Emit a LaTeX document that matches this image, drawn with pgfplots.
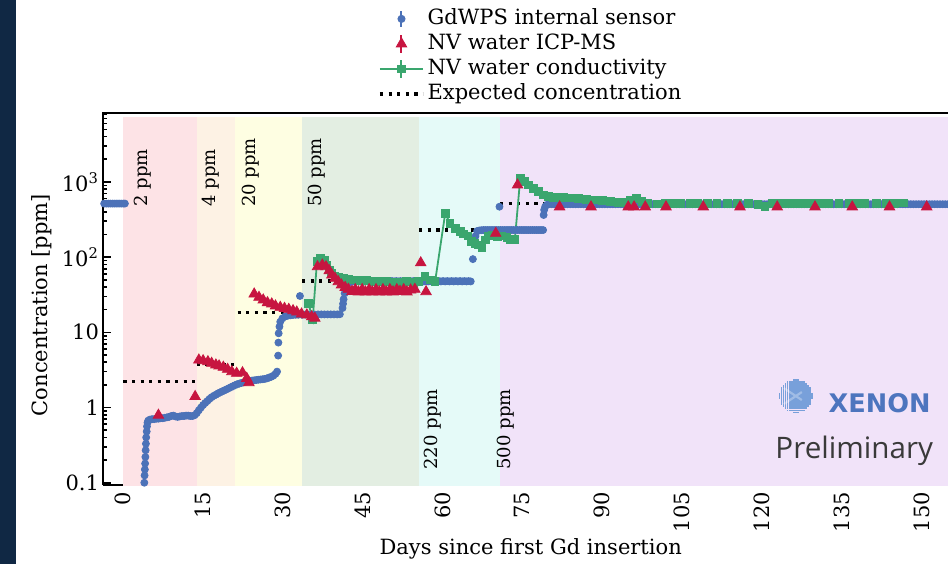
\documentclass[border=0pt]{standalone}
\usepackage{fontspec}
\setmainfont{DejaVu Serif}
\newfontfamily\prelimfont{Open Sans}
\newfontfamily\xenonfont{DejaVu Sans}
\usepackage{pgfplots}
\pgfplotsset{compat=1.18}

\definecolor{navy}{RGB}{16,40,68}
\definecolor{gdblue}{RGB}{76,114,184}
\definecolor{icpred}{RGB}{199,21,64}
\definecolor{condgreen}{RGB}{58,166,110}
\definecolor{bpink}{RGB}{253,227,230}
\definecolor{bpeach}{RGB}{253,242,228}
\definecolor{byellow}{RGB}{254,254,226}
\definecolor{bgreen}{RGB}{227,238,226}
\definecolor{bcyan}{RGB}{229,250,248}
\definecolor{blav}{RGB}{241,227,249}
\definecolor{xenonblue}{RGB}{77,117,190}
\definecolor{logodot}{RGB}{120,160,218}
\definecolor{prelimgray}{RGB}{58,58,58}

\newcommand\mainsize{\fontsize{10.5}{12}\selectfont}
\newcommand\bandfont{\fontsize{9}{10}\selectfont}

\pgfplotsset{
  legblue/.style={legend image code/.code={
    \draw[draw=none] (0pt,0pt) -- (21.5pt,0pt);
    \draw[gdblue,line width=1pt] (10.75pt,-4pt) -- (10.75pt,4pt);
    \fill[gdblue] (10.75pt,0pt) circle (1.8pt);}},
  legred/.style={legend image code/.code={
    \draw[draw=none] (0pt,0pt) -- (21.5pt,0pt);
    \draw[icpred,line width=1pt] (10.75pt,-4.5pt) -- (10.75pt,4.5pt);
    \draw[icpred,mark=triangle*,mark size=3pt] plot coordinates {(10.75pt,0pt)};}},
  leggreen/.style={legend image code/.code={
    \draw[condgreen,line width=0.9pt] (0pt,0pt) -- (21.5pt,0pt);
    \draw[condgreen,line width=1pt] (10.75pt,-4.5pt) -- (10.75pt,4.5pt);
    \draw[condgreen,mark=square*,mark size=1.8pt] plot coordinates {(10.75pt,0pt)};}},
  legblack/.style={legend image code/.code={
    \draw[black,line width=1.6pt,dash pattern=on 1.6pt off 2.7pt] (0pt,0pt) -- (21.5pt,0pt);}},
}

\begin{document}
\begin{tikzpicture}
\fill[white] (-51.65pt,-39.5pt) rectangle (422.35pt,242.5pt);
\fill[navy] (-51.65pt,-39.5pt) rectangle (-43.65pt,242.5pt);
\useasboundingbox (-51.65pt,-39.5pt) rectangle (422.35pt,242.5pt);

\begin{axis}[
  at={(0pt,0pt)}, anchor=south west,
  scale only axis, width=422.35pt, height=185.85pt,
  font=\mainsize,
  xmin=-3.76, xmax=155,
  ymode=log, ymin=0.0932, ymax=8170,
  axis x line*=bottom, axis y line*=left,
  axis line style={line width=0.9pt},
  tick align=inside,
  major tick length=3.8pt, minor tick length=2pt,
  tick style={black, line width=0.8pt},
  xtick={0,15,30,45,60,75,90,105,120,135,150},
  xticklabels={0,15,30,45,60,75,90,105,120,135,150},
  x tick label style={rotate=90, anchor=east, font=\mainsize},
  ytick={0.1,1,10,100,1000},
  yticklabels={0.1,1,10,10\textsuperscript{2},10\textsuperscript{3}},
  minor ytick={0.2,0.3,0.4,0.5,0.6,0.7,0.8,0.9,2,3,4,5,6,7,8,9,20,30,40,50,60,70,80,90,200,300,400,500,600,700,800,900,2000,3000,4000,5000,6000,7000,8000},
  y tick label style={font=\mainsize, inner xsep=2pt},
  xlabel={Days since first Gd insertion},
  ylabel={Concentration [ppm]},
  xlabel style={at={(axis description cs:0.506,-0.172)}, anchor=center},
  ylabel style={at={(axis description cs:-0.0726,0.484)}, anchor=center},
  legend style={at={(axis description cs:0.3252,1.2833)}, anchor=north west,
    draw=none, fill=none, inner sep=0pt, row sep=2pt, column sep=1.5pt,
    font=\mainsize, nodes={inner sep=0pt, text height=8pt, text depth=2.5pt}},
  legend cell align=left,
]
% concentration stages
\addplot[draw=none, fill=bpink, forget plot] coordinates {(0,0.09) (0,7300) (13.8,7300) (13.8,0.09)};
\addplot[draw=none, fill=bpeach, forget plot] coordinates {(13.8,0.09) (13.8,7300) (21,7300) (21,0.09)};
\addplot[draw=none, fill=byellow, forget plot] coordinates {(21,0.09) (21,7300) (33.6,7300) (33.6,0.09)};
\addplot[draw=none, fill=bgreen, forget plot] coordinates {(33.6,0.09) (33.6,7300) (55.5,7300) (55.5,0.09)};
\addplot[draw=none, fill=bcyan, forget plot] coordinates {(55.5,0.09) (55.5,7300) (70.8,7300) (70.8,0.09)};
\addplot[draw=none, fill=blav, forget plot] coordinates {(70.8,0.09) (70.8,7300) (160,7300) (160,0.09)};

% expected concentration
\pgfplotsset{expstyle/.style={black, line width=1.6pt, dash pattern=on 1.6pt off 2.7pt, forget plot}}
\addplot[expstyle] coordinates {(0,2.2) (13.8,2.2)};
\addplot[expstyle] coordinates {(13.8,3.7) (21.2,3.7)};
\addplot[expstyle] coordinates {(21.5,18.2) (33.6,18.2)};
\addplot[expstyle] coordinates {(33.6,48) (55.5,48)};
\addplot[expstyle] coordinates {(55.6,229) (70.8,229)};
\addplot[expstyle] coordinates {(70.8,520) (80,520)};

% GdWPS internal sensor
\addplot[only marks, mark=*, mark size=1.75pt, color=gdblue, forget plot] coordinates {
(-3.6,515) (-3.2,515) (-2.8,515) (-2.4,515) (-2.0,515) (-1.6,515) (-1.2,515) (-0.8,515) (-0.4,515) (0.0,515) (0.3,515)
(3.95,0.10) (4.00,0.125) (4.05,0.15) (4.10,0.18) (4.15,0.22) (4.20,0.27) (4.25,0.33) (4.30,0.40) (4.40,0.48) (4.45,0.56) (4.55,0.63) (4.70,0.67)
(5.0,0.69) (5.4,0.70) (5.8,0.70) (6.2,0.71) (6.6,0.71) (7.0,0.72) (7.4,0.72) (7.8,0.73) (8.2,0.74) (8.6,0.75) (9.0,0.77) (9.4,0.78) (9.8,0.76)
(10.2,0.75) (10.6,0.76) (11.0,0.77) (11.4,0.77) (11.8,0.78) (12.2,0.78) (12.6,0.77) (13.0,0.77) (13.4,0.79) (13.8,0.84) (14.2,0.92) (14.6,1.00)
(15.0,1.08) (15.4,1.15) (15.8,1.22) (16.2,1.30) (16.6,1.37) (17.0,1.43) (17.4,1.48) (17.8,1.54) (18.2,1.59) (18.6,1.64) (19.0,1.69) (19.4,1.74)
(19.8,1.80) (20.2,1.86) (20.6,1.92) (21.0,1.98) (21.4,2.04) (21.8,2.08) (22.2,2.12) (22.6,2.16) (23.0,2.20) (23.4,2.23) (23.8,2.26) (24.2,2.28)
(24.6,2.30) (25.0,2.32) (25.4,2.34) (25.8,2.36) (26.2,2.38) (26.6,2.40) (27.0,2.44) (27.4,2.50) (27.8,2.56) (28.2,2.65) (28.6,2.80) (28.9,3.00)
(29.1,4.9) (29.15,7.3) (29.2,9.7) (29.35,11.9) (29.5,13.8) (29.9,15.3) (30.4,16.2) (30.9,16.6) (31.4,16.8) (31.9,17.0) (32.4,17.1) (32.9,17.1)
(33.2,30.4) (33.6,17.1) (34.2,17.2) (34.8,17.2) (35.4,17.2) (36.0,17.2) (36.6,17.3) (37.2,17.3) (37.8,17.3) (38.4,17.3) (39.0,17.3) (39.6,17.3)
(40.2,17.3) (40.7,17.4) (41.2,21) (41.3,24) (41.4,27.5) (41.6,33) (41.8,40) (42.1,44) (42.5,46)
(42.9,47.5) (43.3,48) (43.7,47.5) (44.1,48) (44.5,47.5) (44.9,48) (45.3,47.5) (45.7,48) (46.1,47.5) (46.5,48) (46.9,47.5) (47.3,48)
(47.7,47.5) (48.1,48) (48.5,47.5) (48.9,48) (49.3,47.5) (49.7,48) (50.1,47.5) (50.5,48) (50.9,47.5) (51.3,48) (51.7,47.5) (52.1,48)
(52.5,47.5) (52.9,48) (53.3,47.5) (53.7,48) (54.1,47.5) (54.5,48) (54.9,47.5) (55.3,48) (55.7,47.5) (56.1,48) (56.5,47.5) (56.9,48)
(57.3,47.5) (57.7,48) (58.1,47.5) (58.5,48) (58.9,47.5) (59.3,48) (59.7,47.5) (60.1,48) (60.5,47.5) (60.9,48) (61.3,47.5) (61.7,48)
(62.1,47.5) (62.5,48) (62.9,47.5) (63.3,48) (63.7,47.5) (64.1,48) (64.5,47.5) (64.9,48) (65.3,47.5)
(65.7,94) (66.2,190) (66.5,222) (66.9,226) (67.3,228)
(67.7,229) (68.1,229) (68.5,229) (68.9,229) (69.3,229) (69.7,229) (70.1,229) (70.5,229) (70.7,468) (70.9,229) (71.3,229) (71.7,229)
(72.1,229) (72.5,229) (72.9,229) (73.3,229) (73.7,229) (74.1,229) (74.5,229) (74.9,229) (75.3,229) (75.7,229) (76.1,229) (76.5,229)
(76.9,229) (77.3,229) (77.7,229) (78.1,229) (78.5,229) (78.9,229) (79.0,363) (79.1,424) (79.3,470) (79.6,495)
(80.0,505) (80.5,505) (81.0,505) (81.5,505) (82.0,505) (82.5,505) (83.0,505) (83.5,505) (84.0,505) (84.5,505) (85.0,505) (85.5,505)
(86.0,505) (86.5,505) (87.0,505) (87.5,505) (88.0,505) (88.5,505) (89.0,505) (89.5,505) (90.0,505) (90.5,505) (91.0,505) (91.5,505)
(92.0,505) (92.5,505) (93.0,505) (93.5,505) (94.0,505) (94.5,505) (95.0,505) (95.5,505) (96.0,505) (96.5,505) (97.0,505) (97.5,505)
(98.0,505) (98.5,505) (99.0,505) (99.5,505) (100.0,505) (100.5,505) (101.0,505) (101.5,505) (102.0,505) (102.5,505) (103.0,505) (103.5,505)
(104.0,505) (104.5,505) (105.0,505) (105.5,505) (106.0,505) (106.5,505) (107.0,505) (107.5,505) (108.0,505) (108.5,505) (109.0,505) (109.5,505)
(110.0,505) (110.5,505) (111.0,505) (111.5,505) (112.0,505) (112.5,505) (113.0,505) (113.5,505) (114.0,505) (114.5,505) (115.0,505) (115.5,505)
(116.0,505) (116.5,505) (117.0,505) (117.5,505) (118.0,505) (118.5,505) (119.0,505) (119.5,505) (120.0,505) (120.5,505) (121.0,505) (121.5,505)
(122.0,505) (122.5,505) (123.0,505) (123.5,505) (124.0,505) (124.5,505) (125.0,505) (125.5,505) (126.0,505) (126.5,505) (127.0,505) (127.5,505)
(128.0,505) (128.5,505) (129.0,505) (129.5,505) (130.0,505) (130.5,505) (131.0,505) (131.5,505) (132.0,505) (132.5,505) (133.0,505) (133.5,505)
(134.0,505) (134.5,505) (135.0,505) (135.5,505) (136.0,505) (136.5,505) (137.0,505) (137.5,505) (138.0,505) (138.5,505) (139.0,505) (139.5,505)
(140.0,505) (140.5,505) (141.0,505) (141.5,505) (142.0,505) (142.5,505) (143.0,505) (143.5,505) (144.0,505) (144.5,505) (145.0,505) (145.5,505)
(146.0,505) (146.5,505) (147.0,505) (147.5,505) (148.0,505) (148.5,505) (149.0,505) (149.5,505) (150.0,505) (150.5,505) (151.0,505) (151.5,505)
(152.0,505) (152.5,505) (153.0,505) (153.5,505) (154.0,505) (154.5,505) (155.0,505)
};

% NV water conductivity
\addplot[color=condgreen, line width=0.9pt, mark=square*, mark size=1.75pt, forget plot] coordinates {
(34.8,24.3) (35.6,14.9) (36.4,86.9) (37.1,96.4) (37.9,91.5) (38.3,78.5) (38.7,67.5) (39.2,61) (39.8,56.1) (40.4,53.8) (41.4,52.2) (42.3,50.7)
(43.2,49.6) (44.5,48.5) (45.8,48.5) (47.0,47.4) (48.3,47.4) (49.5,47.4) (50.8,46.3) (52.0,46.3) (53.3,47.4) (54.5,46.3) (55.5,47.4) (56.7,54.8)
(57.7,49.6) (58.6,47.1) (60.5,382) (61.4,281) (62.4,241) (63.3,218) (64.0,203) (64.8,191) (65.5,160) (66.1,152) (66.7,145) (67.4,135)
(68.0,169) (68.6,191) (69.4,197) (70.3,187) (71.1,191) (72.1,183) (72.7,173) (73.6,173) (74.6,1117) (75.5,1008) (76.1,910) (77.1,822)
(78.0,742) (79.0,670) (79.9,636) (80.8,624) (81.8,624) (82.7,620) (84.0,610) (85.5,598) (87.0,588) (88.5,575) (90.0,560) (91.5,548)
(93.0,535) (94.2,529) (95.3,560) (96.5,605) (97.5,555) (98.5,520) (100.3,508) (101.8,512) (103.2,515) (104.7,520) (106.5,520) (108.0,515)
(109.8,515) (111.6,520) (113.5,515) (115.5,512) (117.5,512) (119.3,505) (120.6,468) (122.0,510) (123.7,512) (125.3,520) (126.6,515) (127.8,520)
(129.5,515) (131.0,515) (132.5,520) (134.5,515) (136.5,512) (138.0,515) (139.4,520) (141.6,520) (143.5,515) (145.0,515) (146.6,525)
};

% NV water ICP-MS
\addplot[only marks, mark=triangle*, mark size=3pt, color=icpred, forget plot] coordinates {
(6.6,0.79) (13.5,1.40) (14.2,4.28) (15.0,4.19) (15.9,4.06) (16.6,3.87) (17.4,3.68) (18.0,3.57) (18.8,3.43) (19.6,3.22) (20.4,2.99) (21.3,2.85)
(22.4,2.90) (23.2,2.44) (23.6,2.14) (24.6,32.3) (25.5,29.2) (26.3,26.9) (27.1,24.8) (27.9,23.8) (28.6,22.4) (29.5,21.5) (30.3,20.8) (31.1,20.2)
(31.9,19.4) (32.6,18.6) (33.5,17.5) (34.5,17.0) (35.4,16.1) (36.0,15.4) (36.5,74.5) (37.4,78.5) (38.1,74.5) (38.7,65.9) (39.2,57.8) (39.8,52.2)
(40.4,47.1) (41.0,42.6) (41.7,39.6) (42.3,37.3) (43.0,35) (43.6,37) (44.2,34.5) (44.9,37) (45.5,34.5) (46.2,37) (46.8,34.5) (47.5,37)
(48.1,34.5) (48.8,37) (49.4,34.5) (50.1,37) (50.7,34.5) (51.4,37) (52.0,35) (52.7,37) (53.3,34.5) (54.0,36.5) (54.8,37.3) (55.9,84)
(56.9,34.7) (70.0,207) (74.1,910) (82.0,465) (87.9,465) (94.9,465) (96.0,465) (98.1,465) (102.0,465) (109.0,465) (115.9,465) (122.9,465)
(130.0,465) (137.0,465) (144.0,465) (151.0,465)
};

% stage labels
\node[rotate=90, anchor=west, inner sep=0pt, font=\bandfont] at (axis cs:3.6,463) {2 ppm};
\node[rotate=90, anchor=west, inner sep=0pt, font=\bandfont] at (axis cs:16.4,463) {4 ppm};
\node[rotate=90, anchor=west, inner sep=0pt, font=\bandfont] at (axis cs:23.9,463) {20 ppm};
\node[rotate=90, anchor=west, inner sep=0pt, font=\bandfont] at (axis cs:36.4,463) {50 ppm};
\node[rotate=90, anchor=west, inner sep=0pt, font=\bandfont] at (axis cs:58.2,0.148) {220 ppm};
\node[rotate=90, anchor=west, inner sep=0pt, font=\bandfont] at (axis cs:71.8,0.148) {500 ppm};

\coordinate (logoc) at (axis cs:126.4,1.42);
\coordinate (xen) at (axis cs:132.5,0.871);
\coordinate (prel) at (axis cs:122.5,0.213);

\addlegendimage{legblue}
\addlegendentry{GdWPS internal sensor}
\addlegendimage{legred}
\addlegendentry{NV water ICP-MS}
\addlegendimage{leggreen}
\addlegendentry{NV water conductivity}
\addlegendimage{legblack}
\addlegendentry{Expected concentration}
\end{axis}

\draw[line width=0.9pt] (-0.45pt,185.85pt) -- (422.35pt,185.85pt);

% XENON logo
\begin{scope}[shift={(logoc)}]
\foreach \i in {-8,...,8}{\foreach \j in {-8,...,8}{
  \pgfmathtruncatemacro{\rr}{\i*\i+\j*\j}
  \ifnum\rr<67 \fill[logodot] (\i*1.02pt-0.4pt,\j*1.02pt-0.4pt) rectangle ++(0.8pt,0.8pt);\fi
}}
\draw[white, opacity=0.3, line width=1.1pt] (-6pt,-4pt) -- (3pt,2pt) (-6pt,4pt) -- (3pt,-2pt);
\end{scope}
\node[anchor=base west, inner sep=0pt, text=xenonblue, font=\xenonfont\bfseries\fontsize{12.8}{15}\selectfont] at (xen) {XENON};
\node[anchor=base west, inner sep=0pt, text=prelimgray, font=\prelimfont\fontsize{14.8}{17}\selectfont] at (prel) {Preliminary};
\end{tikzpicture}
\end{document}
